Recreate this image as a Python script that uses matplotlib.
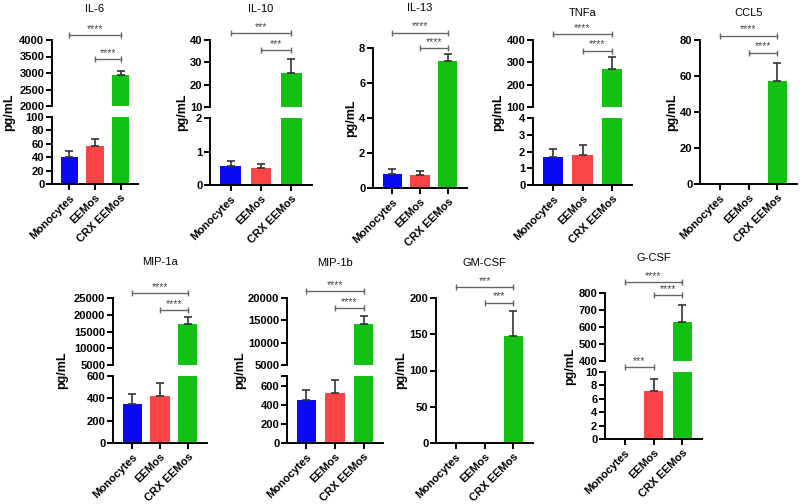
import numpy as np
import matplotlib
matplotlib.use("Agg")
import matplotlib.pyplot as plt
from matplotlib.transforms import blended_transform_factory

plt.rcParams['font.family'] = ['Liberation Sans', 'DejaVu Sans']
plt.rcParams['font.weight'] = 'bold'

groups = ["Monocytes", "EEMos", "CRX EEMos"]
colors = ['#0a0af5', '#fa4446', '#12c112']

il6_mean = [41, 57, 2940]
il6_err = [9, 10, 120]
il10_mean = [0.57, 0.50, 25.0]
il10_err = [0.14, 0.12, 6.5]
il13_mean = [0.82, 0.73, 7.25]
il13_err = [0.25, 0.22, 0.40]
tnfa_mean = [1.65, 1.82, 270]
tnfa_err = [0.50, 0.55, 55]
ccl5_mean = [0, 0, 57.5]
ccl5_err = [0, 0, 10]
mip1a_mean = [350, 420, 17300]
mip1a_err = [85, 120, 2000]
mip1b_mean = [450, 525, 14200]
mip1b_err = [100, 135, 1800]
gmcsf_mean = [0, 0, 147]
gmcsf_err = [0, 0, 35]
gcsf_mean = [0, 7.1, 630]
gcsf_err = [0, 1.9, 100]

W, H = 800, 504

# box: x0, x1, then y top/bottom of upper axes (and lower axes when broken), in pixels
panels = [
    dict(title="IL-6", mean=il6_mean, err=il6_err,
         upper=[2000, 2500, 3000, 3500, 4000], lower=[0, 20, 40, 60, 80, 100],
         box=(52, 138, 40, 106, 117, 184), ylab_x=9, title_y=9,
         brackets=[(0, 2, "****", 1.076, 0), (1, 2, "****", 0.71, 0)]),
    dict(title="IL-10", mean=il10_mean, err=il10_err,
         upper=[10, 20, 30, 40], lower=[0, 1, 2],
         box=(210, 312, 40, 107, 118, 185), ylab_x=187, title_y=9,
         brackets=[(0, 2, "***", 1.10, 0), (1, 2, "***", 0.85, 0)]),
    dict(title="IL-13", mean=il13_mean, err=il13_err,
         upper=[0, 2, 4, 6, 8], lower=None,
         box=(373, 467, 48, 188), ylab_x=351, title_y=8,
         brackets=[(0, 2, "****", 1.11, 0), (1, 2, "****", 1.0, 0)]),
    dict(title="TNFa", mean=tnfa_mean, err=tnfa_err,
         upper=[100, 200, 300, 400], lower=[0, 1, 2, 3, 4],
         box=(533, 632, 40, 107, 118, 185), ylab_x=503, title_y=13,
         brackets=[(0, 2, "****", 1.09, 0), (1, 2, "****", 0.84, 0)]),
    dict(title="CCL5", mean=ccl5_mean, err=ccl5_err,
         upper=[0, 20, 40, 60, 80], lower=None,
         box=(700, 797, 40, 184), ylab_x=673, title_y=13,
         brackets=[(0, 2, "****", 1.03, 0), (1, 2, "****", 0.91, 0)]),
    dict(title="MIP-1a", mean=mip1a_mean, err=mip1a_err,
         upper=[5000, 10000, 15000, 20000, 25000], lower=[0, 200, 400, 600],
         box=(113, 207, 298, 365, 376, 443), ylab_x=62, title_y=262,
         brackets=[(0, 2, "****", 1.07, 0), (1, 2, "****", 0.82, 0)]),
    dict(title="MIP-1b", mean=mip1b_mean, err=mip1b_err,
         upper=[5000, 10000, 15000, 20000], lower=[0, 200, 400, 600, 700],
         box=(287, 383, 298, 365, 376, 443), ylab_x=262, title_y=263,
         brackets=[(0, 2, "****", 1.10, 0), (1, 2, "****", 0.85, 0)]),
    dict(title="GM-CSF", mean=gmcsf_mean, err=gmcsf_err,
         upper=[0, 50, 100, 150, 200], lower=None,
         box=(436, 533, 298, 443), ylab_x=408, title_y=263,
         brackets=[(0, 2, "***", 1.076, 0), (1, 2, "***", 0.966, 0)]),
    dict(title="G-CSF", mean=gcsf_mean, err=gcsf_err,
         upper=[400, 500, 600, 700, 800], lower=[0, 2, 4, 6, 8, 10],
         box=(605, 702, 293, 361, 372, 439), ylab_x=575, title_y=258,
         brackets=[(0, 2, "****", 1.16, 0), (1, 2, "****", 0.97, 0),
                   (0, 1, "***", 1.07, 1)]),
]

fig = plt.figure(figsize=(8, 5.04), dpi=100)


def px_rect(x0, x1, ytop, ybot):
    return [x0 / W, 1 - ybot / H, (x1 - x0) / W, (ybot - ytop) / H]


def style(ax, show_x):
    ax.spines['top'].set_visible(False)
    ax.spines['right'].set_visible(False)
    ax.spines['left'].set_linewidth(1.4)
    ax.tick_params(axis='y', direction='out', length=4, width=1.4, labelsize=8, pad=1.5)
    if show_x:
        ax.spines['bottom'].set_linewidth(1.4)
        ax.tick_params(axis='x', direction='out', length=4, width=1.4, labelsize=8, pad=2)
    else:
        ax.spines['bottom'].set_visible(False)
        ax.tick_params(axis='x', bottom=False, labelbottom=False)


def draw_bars(ax, mean, err):
    x = np.arange(len(groups))
    mean = np.array(mean, dtype=float)
    err = np.array(err, dtype=float)
    ax.bar(x, mean, width=0.68, color=colors, zorder=2)
    idx = mean > 0
    ax.errorbar(x[idx], mean[idx], yerr=[np.zeros(idx.sum()), err[idx]], fmt='none',
                ecolor='#333333', elinewidth=1.2, capsize=3, capthick=1.2, zorder=3)
    ax.set_xlim(-0.68, 2.68)


def bracket(ax, i, j, label, yf):
    tr = ax.get_xaxis_transform()
    ax.plot([i, j], [yf, yf], color='#666666', lw=1, transform=tr, clip_on=False)
    ax.plot([i, j], [yf, yf], ls='none', marker='|', ms=5, mew=1, color='#666666',
            transform=tr, clip_on=False)
    ax.annotate(label, xy=((i + j) / 2, yf), xycoords=tr, xytext=(0, 1),
                textcoords='offset points', ha='center', va='bottom',
                fontsize=7.5, color='#444444', fontweight='normal')


axes_by_panel = []
for p in panels:
    b = p['box']
    x0, x1 = b[0], b[1]
    if p['lower'] is None:
        ax_top = fig.add_axes(px_rect(x0, x1, b[2], b[3]))
        draw_bars(ax_top, p['mean'], p['err'])
        ax_top.set_ylim(p['upper'][0], p['upper'][-1])
        ax_top.set_yticks(p['upper'])
        style(ax_top, True)
        ax_bot = ax_top
        ytop, ybot = b[2], b[3]
    else:
        ax_top = fig.add_axes(px_rect(x0, x1, b[2], b[3]))
        ax_bot = fig.add_axes(px_rect(x0, x1, b[4], b[5]))
        for ax, ticks in ((ax_top, p['upper']), (ax_bot, p['lower'])):
            draw_bars(ax, p['mean'], p['err'])
            ax.set_ylim(ticks[0], ticks[-1])
            ax.set_yticks(ticks)
        if p['title'] == "MIP-1b":
            ax_bot.set_yticklabels(['0', '200', '400', '600', ''])
        style(ax_top, False)
        style(ax_bot, True)
        ytop, ybot = b[2], b[5]

    ax_bot.set_xticks(np.arange(len(groups)))
    ax_bot.set_xticklabels(groups, rotation=45, ha='right', rotation_mode='anchor')

    ax_top.text(1, 1 - p['title_y'] / H, p['title'],
                transform=blended_transform_factory(ax_top.transData, fig.transFigure),
                ha='center', va='center', fontsize=8, fontweight='normal')

    for i, j, label, yf, which in p['brackets']:
        bracket(ax_top if which == 0 else ax_bot, i, j, label, yf)

    axes_by_panel.append((p, ax_top, ax_bot, ytop, ybot))

# y labels: keep them just left of the tick labels
fig.canvas.draw()
renderer = fig.canvas.get_renderer()
for p, ax_top, ax_bot, ytop, ybot in axes_by_panel:
    lefts = [t.get_window_extent(renderer).x0
             for ax in {ax_top, ax_bot} for t in ax.get_yticklabels() if t.get_text()]
    xc = min(p['ylab_x'], min(lefts) - 8)
    fig.text(xc / W, 1 - (ytop + ybot) / 2 / H, "pg/mL", rotation=90,
             ha='center', va='center', fontsize=9, fontweight='bold')

fig.savefig("out.png", dpi=100)
